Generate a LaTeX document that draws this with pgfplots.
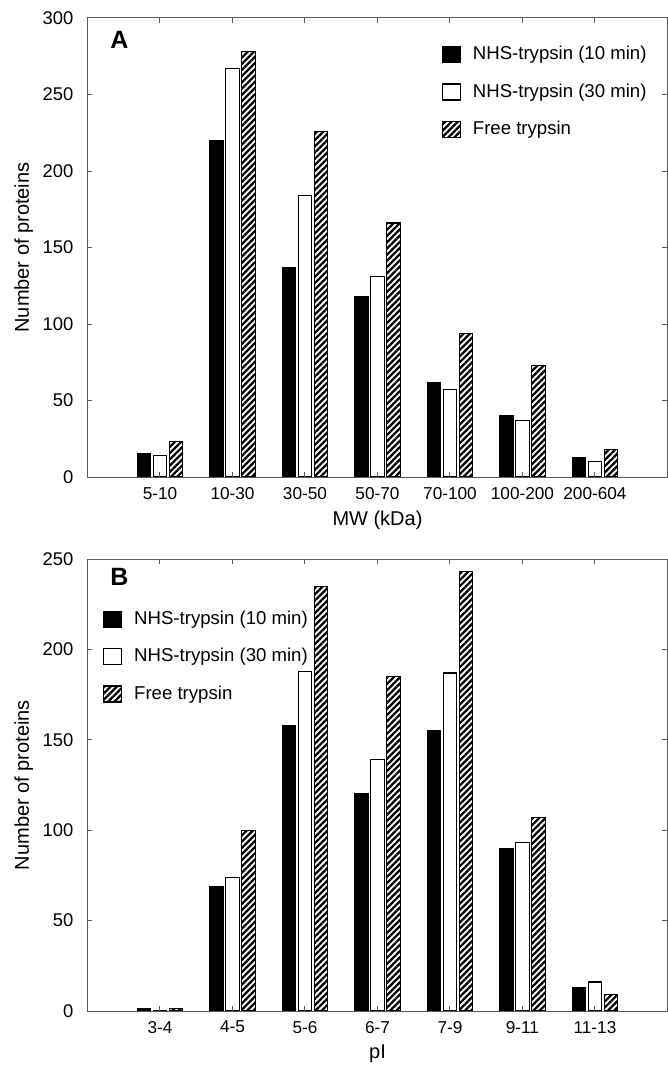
\documentclass[border=0pt]{standalone}
\usepackage{fontspec}
\setmainfont{Liberation Sans}
\usepackage{pgfplots}
\pgfplotsset{compat=1.18}
\usetikzlibrary{patterns.meta}

% MW distribution (panel A)
\pgfplotstableread{
x  nhsten nhsthirty free
1  15     14        23
2  220    267       278
3  137    184       226
4  118    131       166
5  62     57        94
6  40     37        73
7  13     10        18
}\mwdata

% pI distribution (panel B)
\pgfplotstableread{
x  nhsten nhsthirty free
1  1.5    0.4       1.5
2  69     74        100
3  158    188       235
4  120    139       185
5  155    187       243
6  90     93        107
7  13     16        9
}\pidata

\pgfplotsset{
  protbars/.style={
    width=290pt, scale only axis,
    xmin=0, xmax=8, ymin=0,
    xtick={1,...,7},
    ybar=1.3pt, bar width=6.7pt,
    tick align=inside,
    axis on top,
    major tick length=2.5pt,
    axis line style={black!65, line width=0.5pt},
    tick style={black!65, line width=0.5pt},
    font=\fontsize{10}{12}\selectfont,
    /pgf/number format/assume math mode=true,
    ylabel={Number of proteins},
    ylabel style={at={(axis description cs:-0.11,0.5)}, anchor=center},
    yticklabel style={xshift=-3.5pt, font=\fontsize{9.2}{11}\selectfont},
    xticklabel style={yshift=-1.5pt, font=\fontsize{8.6}{10}\selectfont},
    legend cell align=left,
    legend style={draw=none, fill=none, anchor=north west, inner sep=0pt,
      row sep=6.5pt, font=\fontsize{9.3}{11}\selectfont,
      /tikz/every odd column/.append style={column sep=4pt}},
  },
  sq legend/.style={legend image code/.code={\draw[##1] (0pt,-4pt) rectangle (9pt,4pt);}},
  blk/.style={fill=black, draw=black, line width=0.6pt, sq legend},
  wht/.style={fill=white, draw=black, line width=0.6pt, sq legend},
  hat/.style={draw=black, line width=0.6pt, pattern={Lines[angle=45,distance=2.2pt,line width=1.15pt]}, sq legend},
}

\begin{document}
\begin{tikzpicture}
\begin{axis}[protbars,
    height=229.5pt,
    ymax=300, ytick={0,50,...,300},
    xticklabels={5-10,10-30,30-50,50-70,70-100,100-200,200-604},
    xlabel={MW (kDa)},
    xlabel style={at={(axis description cs:0.5,-0.094)}, anchor=center},
    legend style={at={(rel axis cs:0.61,0.948)}},
]
\addplot[blk] table[x=x,y=nhsten] {\mwdata};
\addplot[wht] table[x=x,y=nhsthirty] {\mwdata};
\addplot[hat] table[x=x,y=free] {\mwdata};
\legend{NHS-trypsin (10 min),NHS-trypsin (30 min),Free trypsin}
\node[font=\fontsize{12.5}{14}\bfseries\selectfont] at (rel axis cs:0.055,0.952) {A};
\end{axis}

\begin{axis}[protbars,
    at={(0pt,-267pt)},
    height=226pt,
    ymax=250, ytick={0,50,...,250},
    xticklabels={3-4,4-5,5-6,6-7,7-9,9-11,11-13},
    xlabel={pI},
    xlabel style={at={(axis description cs:0.5,-0.095)}, anchor=center},
    legend style={at={(rel axis cs:0.026,0.895)}},
]
\addplot[blk] table[x=x,y=nhsten] {\pidata};
\addplot[wht] table[x=x,y=nhsthirty] {\pidata};
\addplot[hat] table[x=x,y=free] {\pidata};
\legend{NHS-trypsin (10 min),NHS-trypsin (30 min),Free trypsin}
\node[font=\fontsize{12.5}{14}\bfseries\selectfont] at (rel axis cs:0.055,0.96) {B};
\end{axis}
\pgfresetboundingbox
\useasboundingbox (-43.75pt,-297pt) rectangle (290pt,238.5pt);
\end{tikzpicture}
\end{document}
